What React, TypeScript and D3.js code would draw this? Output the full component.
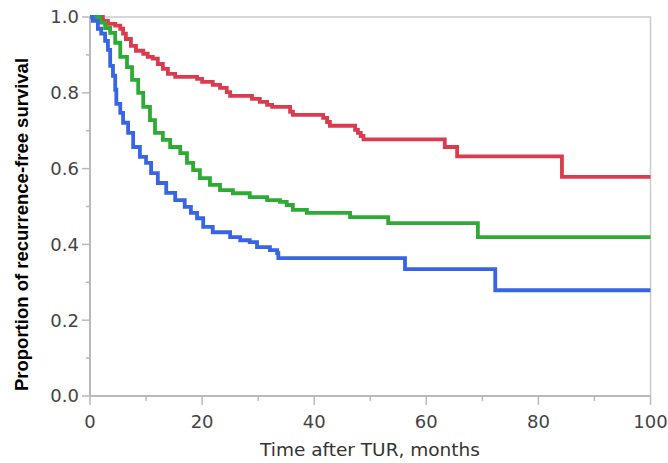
import { useEffect, useRef } from 'react'
import * as d3 from 'd3'

// [months, proportion] at each drop
const redSteps: [number, number][] = [
  [2.3, 0.99], [3.2, 0.982], [4.5, 0.977], [5.4, 0.969], [5.9, 0.956], [6.4, 0.942],
  [7.3, 0.924], [8.2, 0.911], [9.5, 0.903], [10.3, 0.895], [11.2, 0.89], [12.1, 0.876],
  [13, 0.863], [13.9, 0.85], [15.2, 0.842], [19.1, 0.837], [20, 0.829], [21.9, 0.821],
  [23.2, 0.813], [24.4, 0.802], [25, 0.792], [28.9, 0.784], [30.3, 0.776], [31.6, 0.768],
  [32.5, 0.763], [35.7, 0.75], [36.2, 0.742], [41.6, 0.734], [42.3, 0.723], [42.8, 0.713],
  [47.3, 0.702], [47.8, 0.694], [48.3, 0.686], [48.8, 0.677], [63.3, 0.657], [65.5, 0.632],
  [84.2, 0.578],
]

const greenSteps: [number, number][] = [
  [1.8, 0.985], [2.7, 0.971], [3.6, 0.958], [4.5, 0.932], [5.4, 0.895], [6.6, 0.868],
  [7.5, 0.834], [8.6, 0.8], [9.5, 0.763], [10.7, 0.728], [11.6, 0.694], [13, 0.676],
  [14.3, 0.657], [16.1, 0.641], [17.3, 0.615], [18.4, 0.596], [19.6, 0.575], [21.4, 0.557],
  [23.2, 0.543], [25.5, 0.535], [28.5, 0.525], [31.6, 0.517], [33.9, 0.512], [35.1, 0.504],
  [36.2, 0.491], [38.7, 0.483], [46.4, 0.472], [53.2, 0.456], [69.2, 0.419],
]

const blueSteps: [number, number][] = [
  [0.5, 0.99], [1.4, 0.969], [2, 0.956], [2.7, 0.937], [3.2, 0.913], [3.6, 0.871],
  [4.1, 0.845], [4.5, 0.808], [4.7, 0.771], [5.4, 0.747], [5.9, 0.721], [6.8, 0.694],
  [7.7, 0.657], [8.9, 0.631], [10, 0.615], [10.9, 0.588], [12.1, 0.562], [13.6, 0.536],
  [15.2, 0.517], [16.9, 0.499], [18, 0.483], [19.1, 0.469], [20.2, 0.446], [21.9, 0.432],
  [25, 0.419], [26.8, 0.411], [28.5, 0.406], [29.8, 0.393], [32.1, 0.385], [33.4, 0.377],
  [33.6, 0.364], [56.2, 0.335], [72.3, 0.279],
]

const series = [
  { name: 'red', color: '#db3b4e', steps: redSteps },
  { name: 'green', color: '#2eab34', steps: greenSteps },
  { name: 'blue', color: '#3765e3', steps: blueSteps },
]

const xMajor = [0, 20, 40, 60, 80, 100]
const xMinor = [10, 30, 50, 70, 90]
const yMajor = [0, 0.2, 0.4, 0.6, 0.8, 1.0]
const yMinor = [0.1, 0.3, 0.5, 0.7, 0.9]

const xTitle = 'Time after TUR, months'
const yTitle = 'Proportion of recurrence-free survival'

export default function App() {
  const ref = useRef<SVGSVGElement>(null)

  useEffect(() => {
    const svg = d3.select(ref.current)
    svg.selectAll('*').remove()
    const width = 668
    const height = 463
    const m = { left: 90, right: 17.5, top: 17, bottom: 67 }
    const axisColor = '#b9b9b9'
    const labelFont = '"DejaVu Sans", Verdana, sans-serif'

    const x = d3.scaleLinear().domain([0, 100]).range([m.left, width - m.right])
    const y = d3.scaleLinear().domain([0, 1]).range([height - m.bottom, m.top])

    svg.append('rect').attr('width', width).attr('height', height).attr('fill', '#fff')

    // frame
    svg
      .append('path')
      .attr('d', `M${x(0)},${y(1)}H${x(100)}V${y(0)}`)
      .attr('fill', 'none')
      .attr('stroke', '#cccccc')
      .attr('stroke-width', 1.5)

    const yAxis = svg.append('g').attr('transform', `translate(${x(0)},0)`)
    yAxis
      .append('line')
      .attr('y1', y(0))
      .attr('y2', y(1))
      .attr('stroke', axisColor)
      .attr('stroke-width', 2)
    yAxis
      .selectAll('line.maj')
      .data(yMajor)
      .join('line')
      .attr('class', 'maj')
      .attr('x1', -8)
      .attr('x2', 0)
      .attr('y1', (d) => y(d))
      .attr('y2', (d) => y(d))
      .attr('stroke', axisColor)
      .attr('stroke-width', 1.5)
    yAxis
      .selectAll('line.min')
      .data(yMinor)
      .join('line')
      .attr('class', 'min')
      .attr('x1', -4)
      .attr('x2', 0)
      .attr('y1', (d) => y(d))
      .attr('y2', (d) => y(d))
      .attr('stroke', axisColor)
      .attr('stroke-width', 1.5)
    yAxis
      .selectAll('text')
      .data(yMajor)
      .join('text')
      .attr('x', -11)
      .attr('y', (d) => y(d))
      .attr('dy', '0.36em')
      .attr('text-anchor', 'end')
      .attr('font-family', labelFont)
      .attr('font-size', 18)
      .attr('fill', '#444')
      .text((d) => d3.format('.1f')(d))

    const xAxis = svg.append('g').attr('transform', `translate(0,${y(0)})`)
    xAxis
      .append('line')
      .attr('x1', x(0))
      .attr('x2', x(100))
      .attr('stroke', axisColor)
      .attr('stroke-width', 2)
    xAxis
      .selectAll('line.maj')
      .data(xMajor)
      .join('line')
      .attr('class', 'maj')
      .attr('x1', (d) => x(d))
      .attr('x2', (d) => x(d))
      .attr('y1', 0)
      .attr('y2', 9)
      .attr('stroke', axisColor)
      .attr('stroke-width', 1.5)
    xAxis
      .selectAll('line.min')
      .data(xMinor)
      .join('line')
      .attr('class', 'min')
      .attr('x1', (d) => x(d))
      .attr('x2', (d) => x(d))
      .attr('y1', 0)
      .attr('y2', 5)
      .attr('stroke', axisColor)
      .attr('stroke-width', 1.5)
    xAxis
      .selectAll('text')
      .data(xMajor)
      .join('text')
      .attr('x', (d) => x(d))
      .attr('y', 32)
      .attr('text-anchor', 'middle')
      .attr('font-family', labelFont)
      .attr('font-size', 18)
      .attr('fill', '#444')
      .text((d) => d)

    svg
      .append('text')
      .attr('x', 370)
      .attr('y', 456)
      .attr('text-anchor', 'middle')
      .attr('font-family', labelFont)
      .attr('font-size', 18.5)
      .attr('fill', '#333')
      .text(xTitle)

    svg
      .append('text')
      .attr('transform', `translate(27.5,224.5) rotate(-90)`)
      .attr('text-anchor', 'middle')
      .attr('font-family', '"Liberation Sans", Arial, sans-serif')
      .attr('font-weight', 'bold')
      .attr('font-size', 18.5)
      .attr('fill', '#000')
      .text(yTitle)

    const line = d3
      .line<[number, number]>()
      .x((d) => x(d[0]))
      .y((d) => y(d[1]))
      .curve(d3.curveStepAfter)

    series.forEach((s) => {
      const pts: [number, number][] = [[0, 1], ...s.steps, [100, s.steps[s.steps.length - 1][1]]]
      svg
        .append('path')
        .attr('d', line(pts))
        .attr('fill', 'none')
        .attr('stroke', s.color)
        .attr('stroke-width', 3.8)
    })
  }, [])

  return (
    <svg
      ref={ref}
      width={668}
      height={463}
      style={{ position: 'absolute', left: 0, top: 0, display: 'block' }}
    />
  )
}
